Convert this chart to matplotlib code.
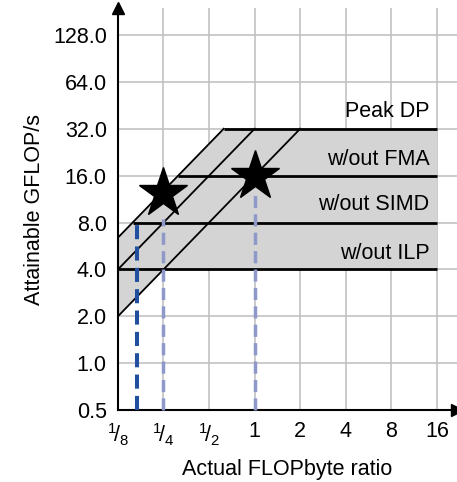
import numpy as np
import matplotlib
matplotlib.use("Agg")
import matplotlib.pyplot as plt

plt.rcParams['font.family'] = ['Liberation Sans', 'DejaVu Sans']
plt.rcParams['mathtext.fontset'] = 'custom'
plt.rcParams['mathtext.rm'] = 'Liberation Sans'
plt.rcParams['mathtext.it'] = 'Liberation Sans'

# roofline data
x_ticks = [1/8, 1/4, 1/2, 1, 2, 4, 8, 16]
x_tick_labels = [r'$^1\!/_8$', r'$^1\!/_4$', r'$^1\!/_2$', '1', '2', '4', '8', '16']
y_ticks = [0.5, 1.0, 2.0, 4.0, 8.0, 16.0, 32.0, 64.0, 128.0]
y_tick_labels = ['0.5', '1.0', '2.0', '4.0', '8.0', '16.0', '32.0', '64.0', '128.0']

ceilings = [32.0, 16.0, 8.0, 4.0]
ceiling_names = ['Peak DP', 'w/out FMA', 'w/out SIMD', 'w/out ILP']
label_y = [41.0, 20.2, 10.4, 5.1]
bandwidths = [51.2, 32.0, 16.0]  # GB/s, slopes of the diagonal roofs

kernel_x = [1/4, 1.0]
kernel_y = [12.4, 16.0]
dash_x = [1/6, 1/4, 1.0]
dash_top = [8.2, 8.4, 12.0]
dash_colors = ['#1f4f9e', '#8e98c9', '#8e98c9']
dash_widths = [2.9, 2.5, 2.5]

fs = 15.5
x_min, x_max = 1/8, 16
fig = plt.figure(figsize=(4.57, 4.82), dpi=100)
ax = fig.add_axes([0.258, 0.149, 0.742, 0.834])
ax.set_xscale('log', base=2)
ax.set_yscale('log', base=2)
ax.set_xlim(1/8, 21.7)
ax.set_ylim(0.5, 190)

# shaded region between the roofs
top_bw = bandwidths[0]
low_bw = bandwidths[-1]
poly_x = [x_min, 4.0 / low_bw, x_max, x_max, ceilings[0] / top_bw, x_min]
poly_y = [low_bw * x_min, 4.0, 4.0, ceilings[0], ceilings[0], top_bw * x_min]
ax.fill(poly_x, poly_y, color='#d4d4d4', zorder=1, lw=0)

# horizontal ceilings
for c in ceilings:
    start = max(x_min, c / top_bw)
    ax.plot([start, x_max], [c, c], color='black', lw=2.0, zorder=3,
            solid_capstyle='butt')

# diagonal memory roofs
for bw in bandwidths:
    ax.plot([x_min, ceilings[0] / bw], [bw * x_min, ceilings[0]],
            color='black', lw=1.3, zorder=3)

for name, y in zip(ceiling_names, label_y):
    ax.text(14.3, y, name, ha='right', va='center', fontsize=fs, zorder=4)

# measured intensities
for x, top, col, w in zip(dash_x, dash_top, dash_colors, dash_widths):
    ax.plot([x, x], [0.5, top], color=col, lw=w, ls=(0, (3.5, 1.8)),
            zorder=4, clip_on=False)

ax.plot(kernel_x, kernel_y, ls='none', marker='*', ms=37, color='black',
        zorder=5)

ax.set_xticks(x_ticks)
ax.set_xticklabels(x_tick_labels, fontsize=fs)
ax.set_yticks(y_ticks)
ax.set_yticklabels(y_tick_labels, fontsize=fs)
ax.minorticks_off()
ax.tick_params(length=0, pad=8)
ax.grid(True, color='#c2c2c2', lw=1.2, zorder=0)
ax.set_axisbelow(True)

for s in ['top', 'right']:
    ax.spines[s].set_visible(False)
for s in ['left', 'bottom']:
    ax.spines[s].set_linewidth(1.5)
ax.plot(1, 0, '>k', ms=9, transform=ax.transAxes, clip_on=False)
ax.plot(0, 1, '^k', ms=9, transform=ax.transAxes, clip_on=False)

ax.set_xlabel('Actual FLOPbyte ratio', fontsize=fs, labelpad=8)
ax.set_ylabel('Attainable GFLOP/s', fontsize=fs, labelpad=6)

fig.savefig('out.png', dpi=100)
